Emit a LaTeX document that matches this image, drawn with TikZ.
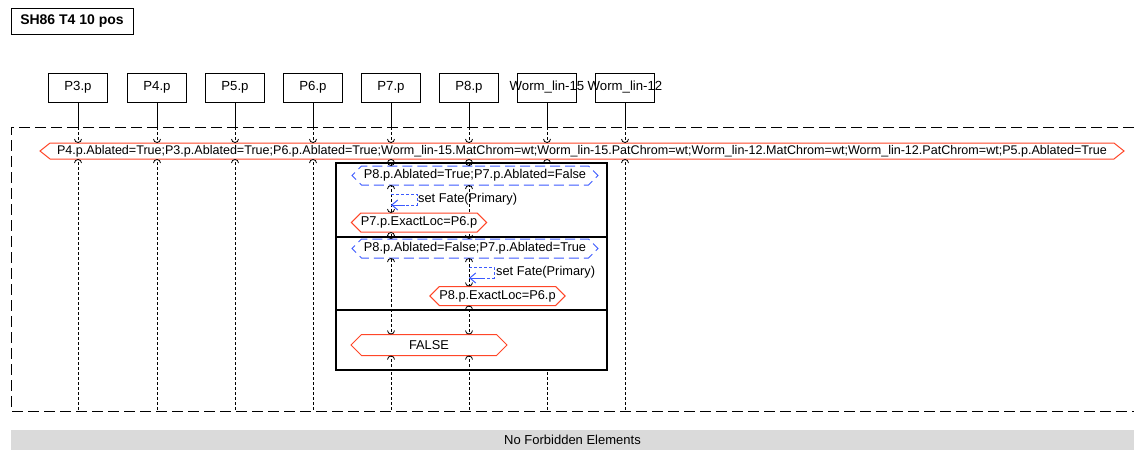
\documentclass[tikz,border=0pt]{standalone}
\usepackage{fontspec}
\setmainfont{Liberation Sans}
\usetikzlibrary{shapes.symbols,arrows.meta}
\definecolor{cred}{RGB}{255,70,40}
\definecolor{cblue}{RGB}{60,90,255}
\definecolor{cbar}{RGB}{218,218,218}
\newcommand\mkrs[3]{%
  \draw[line width=0.8] (#1+3.5,#2-4) arc (0:180:3.5);
  \draw[line width=0.8] (#1-3.5,#3+4) arc (180:360:3.5);}
\tikzset{
  every node/.style={font=\fontsize{12.8}{14}\selectfont, inner sep=0},
  lbox/.style={draw, line width=1, minimum width=59, minimum height=29, font=\fontsize{13.2}{14}\selectfont},
  lifeline/.style={line width=1, dash pattern=on 3 off 2},
  lifetop/.style={line width=1},
  hexa/.style={signal, signal to=east and west, fill=white, line width=1, minimum height=#1},
  hexred/.style={hexa=19, draw=cred, signal pointer angle=90},
  hexblue/.style={hexa=19, draw=cblue, dash pattern=on 10 off 5, signal pointer angle=90},
  selfmsg/.style={cblue, line width=1, dash pattern=on 3 off 2},
  frame/.style={line width=1, dash pattern=on 11 off 5},
}
\begin{document}
\begin{tikzpicture}[x=1pt,y=-1pt]
\useasboundingbox (0,0) rectangle (1134,450);
% title
\node[draw, line width=1, minimum width=122, minimum height=26, font=\fontsize{14}{16}\selectfont\bfseries] (title) at (72,21) {SH86 T4 10 pos};
% lifeline heads
\node[lbox] (P3) at (78,87.5) {P3.p};
\node[lbox] (P4) at (157,87.5) {P4.p};
\node[lbox] (P5) at (235,87.5) {P5.p};
\node[lbox] (P6) at (313,87.5) {P6.p};
\node[lbox] (P7) at (391,87.5) {P7.p};
\node[lbox] (P8) at (469,87.5) {P8.p};
\node[lbox, label={[font=\fontsize{13.2}{14}\selectfont]center:Worm\_lin-15}] (W15) at (547,87.5) {};
\node[lbox, label={[font=\fontsize{13.2}{14}\selectfont]center:Worm\_lin-12}] (W12) at (625,87.5) {};
% lifelines
\foreach \n/\x in {P3/78,P4/157,P5/235,P6/313,P7/391,P8/469,W15/547,W12/625}{
  \coordinate (\n t) at (\x,127);
  \coordinate (\n b) at (\x,411);
  \draw[lifetop] (\n.south) -- (\n t);
  \draw[lifeline] (\n t) -- (\n b);
}
% frame
\coordinate (fTL) at (11,127);
\coordinate (fTR) at (1134,127);
\coordinate (fBL) at (11,411);
\coordinate (fBR) at (1134,411);
\draw[frame] (fTR) -- (fTL) -- (fBL) -- (fBR);
% alt box
\node[draw, fill=white, line width=2, minimum width=271, minimum height=207] (alt) at (471.5,266.5) {};
\coordinate (d1l) at (336,237); \coordinate (d1r) at (607,237);
\coordinate (d2l) at (336,310); \coordinate (d2r) at (607,310);
\draw[line width=2] (d1l) -- (d1r);
\draw[line width=2] (d2l) -- (d2r);
\coordinate (P7i) at (391,164); \coordinate (P7o) at (391,369);
\coordinate (P8i) at (469,164); \coordinate (P8o) at (469,369);
\draw[lifeline] (P7i) -- (P7o);
\draw[lifeline] (P8i) -- (P8o);
% big condition
\node[hexa=16, draw=cred, signal pointer angle=77, minimum width=1084, font=\fontsize{12.55}{14}\selectfont] (H0) at (582,151) {P4.p.Ablated=True;P3.p.Ablated=True;P6.p.Ablated=True;Worm\_lin-15.MatChrom=wt;Worm\_lin-15.PatChrom=wt;Worm\_lin-12.MatChrom=wt;Worm\_lin-12.PatChrom=wt;P5.p.Ablated=True};
\foreach \x in {78,157,235,313,391,469,547,625}{\mkrs{\x}{143}{159}}
% fragment 1
\node[hexblue, minimum width=246] (H1) at (475,175.5) {P8.p.Ablated=True;P7.p.Ablated=False};
\foreach \x in {391,469}{\mkrs{\x}{166}{185}}
\coordinate (s1a) at (391,194); \coordinate (s1b) at (417,194);
\coordinate (s1c) at (417,205); \coordinate (s1d) at (391,205);
\draw[selfmsg] (s1a) -- (s1b) -- (s1c) -- (s1d);
\draw[cblue, line width=1, -{Straight Barb[length=6,width=10]}] (s1c) ++(-12,0) -- (s1d);
\node[anchor=west] (f1) at (418,199.5) {set Fate(Primary)};
\node[hexred, minimum width=134] (H2) at (419,222.5) {P7.p.ExactLoc=P6.p};
\mkrs{391}{213}{232}
% fragment 2
\node[hexblue, minimum width=246] (H3) at (475,248.5) {P8.p.Ablated=False;P7.p.Ablated=True};
\foreach \x in {391,469}{\mkrs{\x}{239}{258}}
\coordinate (s2a) at (469,267); \coordinate (s2b) at (494,267);
\coordinate (s2c) at (494,278); \coordinate (s2d) at (469,278);
\draw[selfmsg] (s2a) -- (s2b) -- (s2c) -- (s2d);
\draw[cblue, line width=1, -{Straight Barb[length=6,width=10]}] (s2c) ++(-12,0) -- (s2d);
\node[anchor=west] (f2) at (496,272.5) {set Fate(Primary)};
\node[hexred, minimum width=135] (H4) at (497.5,296) {P8.p.ExactLoc=P6.p};
\mkrs{469}{286.5}{305.5}
% fragment 3
\node[hexa=21, draw=cred, signal pointer angle=90, minimum width=156] (H5) at (429,345) {FALSE};
\foreach \x in {391,469}{\mkrs{\x}{334.5}{355.5}}
% bottom bar
\node[fill=cbar, minimum width=1123, minimum height=20, font=\fontsize{13}{15}\selectfont] (bar) at (572.5,440) {No Forbidden Elements};
\end{tikzpicture}
\end{document}
